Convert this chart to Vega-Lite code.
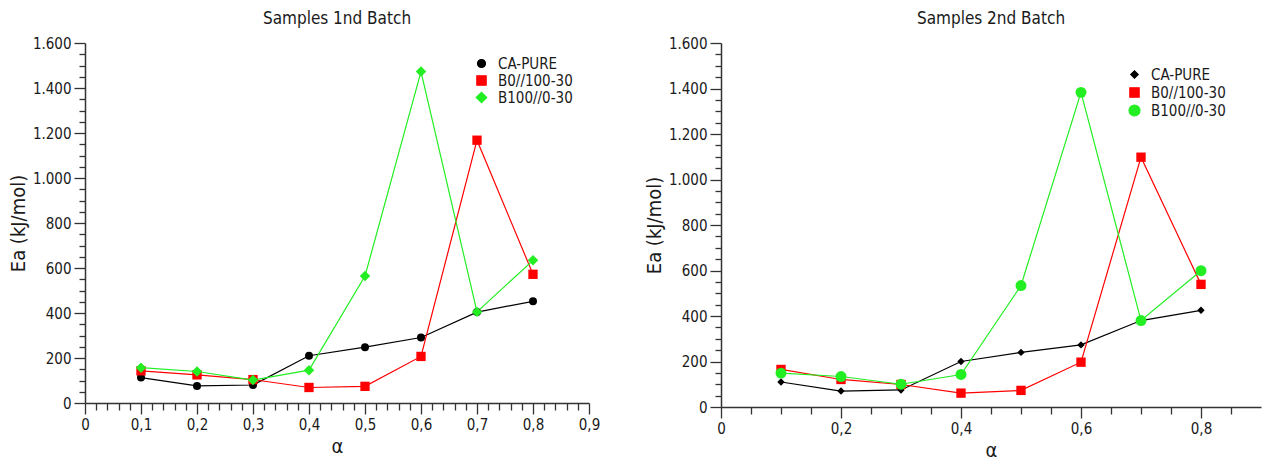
{
  "$schema": "https://vega.github.io/schema/vega-lite/v6.json",
  "padding": {"left": 8, "top": 10, "right": 2, "bottom": 2},
  "config": {
    "font": "DejaVu Sans Condensed",
    "view": {"stroke": null},
    "axis": {"grid": false, "domainColor": "#333333", "domainWidth": 1.5, "tickColor": "#333333", "tickWidth": 1.3, "labelColor": "#1a1a1a", "labelFontSize": 15, "labelFont": "DejaVu Sans Condensed", "titleFont": "DejaVu Sans Condensed", "titleFontSize": 20, "titleFontWeight": "normal", "titleColor": "#1a1a1a", "labelOverlap": false, "labelFlush": false, "labelPadding": 3, "titlePadding": 4},
    "title": {"font": "DejaVu Sans Condensed", "fontSize": 17, "fontWeight": "normal", "color": "#1a1a1a"},
    "legend": {"labelFont": "DejaVu Sans Condensed", "labelFontSize": 15, "labelColor": "#1a1a1a", "padding": 0, "clipHeight": 15, "title": null}
  },
  "spacing": 44,
  "datasets": {
    "b1": [
      {"alpha": 0.1, "Ea": 113, "sample": "CA-PURE"},
      {"alpha": 0.2, "Ea": 76, "sample": "CA-PURE"},
      {"alpha": 0.3, "Ea": 80, "sample": "CA-PURE"},
      {"alpha": 0.4, "Ea": 210, "sample": "CA-PURE"},
      {"alpha": 0.5, "Ea": 248, "sample": "CA-PURE"},
      {"alpha": 0.6, "Ea": 291, "sample": "CA-PURE"},
      {"alpha": 0.7, "Ea": 404, "sample": "CA-PURE"},
      {"alpha": 0.8, "Ea": 452, "sample": "CA-PURE"},
      {"alpha": 0.1, "Ea": 143, "sample": "B0//100-30"},
      {"alpha": 0.2, "Ea": 125, "sample": "B0//100-30"},
      {"alpha": 0.3, "Ea": 104, "sample": "B0//100-30"},
      {"alpha": 0.4, "Ea": 69, "sample": "B0//100-30"},
      {"alpha": 0.5, "Ea": 74, "sample": "B0//100-30"},
      {"alpha": 0.6, "Ea": 207, "sample": "B0//100-30"},
      {"alpha": 0.7, "Ea": 1168, "sample": "B0//100-30"},
      {"alpha": 0.8, "Ea": 572, "sample": "B0//100-30"},
      {"alpha": 0.1, "Ea": 157, "sample": "B100//0-30"},
      {"alpha": 0.2, "Ea": 140, "sample": "B100//0-30"},
      {"alpha": 0.3, "Ea": 102, "sample": "B100//0-30"},
      {"alpha": 0.4, "Ea": 146, "sample": "B100//0-30"},
      {"alpha": 0.5, "Ea": 564, "sample": "B100//0-30"},
      {"alpha": 0.6, "Ea": 1473, "sample": "B100//0-30"},
      {"alpha": 0.7, "Ea": 405, "sample": "B100//0-30"},
      {"alpha": 0.8, "Ea": 634, "sample": "B100//0-30"}
    ],
    "b2": [
      {"alpha": 0.1, "Ea": 110, "sample": "CA-PURE"},
      {"alpha": 0.2, "Ea": 70, "sample": "CA-PURE"},
      {"alpha": 0.3, "Ea": 75, "sample": "CA-PURE"},
      {"alpha": 0.4, "Ea": 200, "sample": "CA-PURE"},
      {"alpha": 0.5, "Ea": 240, "sample": "CA-PURE"},
      {"alpha": 0.6, "Ea": 273, "sample": "CA-PURE"},
      {"alpha": 0.7, "Ea": 380, "sample": "CA-PURE"},
      {"alpha": 0.8, "Ea": 425, "sample": "CA-PURE"},
      {"alpha": 0.1, "Ea": 165, "sample": "B0//100-30"},
      {"alpha": 0.2, "Ea": 121, "sample": "B0//100-30"},
      {"alpha": 0.3, "Ea": 99, "sample": "B0//100-30"},
      {"alpha": 0.4, "Ea": 61, "sample": "B0//100-30"},
      {"alpha": 0.5, "Ea": 73, "sample": "B0//100-30"},
      {"alpha": 0.6, "Ea": 197, "sample": "B0//100-30"},
      {"alpha": 0.7, "Ea": 1098, "sample": "B0//100-30"},
      {"alpha": 0.8, "Ea": 539, "sample": "B0//100-30"},
      {"alpha": 0.1, "Ea": 149, "sample": "B100//0-30"},
      {"alpha": 0.2, "Ea": 134, "sample": "B100//0-30"},
      {"alpha": 0.3, "Ea": 100, "sample": "B100//0-30"},
      {"alpha": 0.4, "Ea": 143, "sample": "B100//0-30"},
      {"alpha": 0.5, "Ea": 534, "sample": "B100//0-30"},
      {"alpha": 0.6, "Ea": 1383, "sample": "B100//0-30"},
      {"alpha": 0.7, "Ea": 380, "sample": "B100//0-30"},
      {"alpha": 0.8, "Ea": 599, "sample": "B100//0-30"}
    ]
  },
  "hconcat": [
    {
      "width": 504,
      "height": 360,
      "title": {"text": "Samples 1nd Batch", "offset": 8},
      "data": {"name": "b1"},
      "encoding": {
        "x": {"field": "alpha", "type": "quantitative",
          "scale": {"domain": [0, 0.9], "nice": false},
          "axis": {"title": "α",
            "values": [0,0.02,0.04,0.06,0.08,0.1,0.12,0.14,0.16,0.18,0.2,0.22,0.24,0.26,0.28,0.3,0.32,0.34,0.36,0.38,0.4,0.42,0.44,0.46,0.48,0.5,0.52,0.54,0.56,0.58,0.6,0.62,0.64,0.66,0.68,0.7,0.72,0.74,0.76,0.78,0.8,0.82,0.84,0.86,0.88,0.9],
            "labelExpr": "abs(datum.value*10 - round(datum.value*10)) < 0.001 ? replace(format(datum.value, '.1~f'), '.', ',') : ''",
            "tickSize": {"condition": {"test": "abs(datum.value*10 - round(datum.value*10)) < 0.001", "value": 11}, "value": 7}}},
        "y": {"field": "Ea", "type": "quantitative",
          "scale": {"domain": [0, 1600], "nice": false},
          "axis": {"title": "Ea (kJ/mol)",
            "values": [0,50,100,150,200,250,300,350,400,450,500,550,600,650,700,750,800,850,900,950,1000,1050,1100,1150,1200,1250,1300,1350,1400,1450,1500,1550,1600],
            "labelExpr": "datum.value % 200 === 0 ? replace(format(datum.value, ','), ',', '.') : ''",
            "tickSize": {"condition": {"test": "datum.value % 200 === 0", "value": 11}, "value": 6}}}
      },
      "layer": [
        {"mark": {"type": "line", "strokeWidth": 1.2},
          "encoding": {
            "color": {"field": "sample", "type": "nominal",
              "scale": {"domain": ["CA-PURE", "B0//100-30", "B100//0-30"], "range": ["#000000", "#ff0000", "#22ee22"]},
              "legend": {"orient": "none", "legendX": 389, "legendY": 13, "symbolType": "M-1,0H1", "symbolSize": 1024, "symbolStrokeWidth": 1.2, "rowPadding": 1, "labelOffset": 9}}
          }},
        {"mark": {"type": "point", "filled": true, "opacity": 1},
          "encoding": {
            "fill": {"field": "sample", "type": "nominal",
              "scale": {"domain": ["CA-PURE", "B0//100-30", "B100//0-30"], "range": ["#000000", "#ff0000", "#22ee22"]},
              "legend": null},
            "shape": {"field": "sample", "type": "nominal", "scale": {"domain": ["CA-PURE", "B0//100-30", "B100//0-30"], "range": ["circle", "square", "diamond"]},
              "legend": null},
            "size": {"field": "sample", "type": "nominal", "scale": {"domain": ["CA-PURE", "B0//100-30", "B100//0-30"], "range": [64, 110, 60]}, "legend": null}
          }}
      ]
    },
    {
      "width": 540,
      "height": 364,
      "title": {"text": "Samples 2nd Batch", "offset": 8},
      "data": {"name": "b2"},
      "encoding": {
        "x": {"field": "alpha", "type": "quantitative",
          "scale": {"domain": [0, 0.9], "nice": false},
          "axis": {"title": "α",
            "values": [0,0.05,0.1,0.15,0.2,0.25,0.3,0.35,0.4,0.45,0.5,0.55,0.6,0.65,0.7,0.75,0.8,0.85],
            "labelExpr": "abs(datum.value*5 - round(datum.value*5)) < 0.001 ? replace(format(datum.value, '.1~f'), '.', ',') : ''",
            "tickSize": {"condition": {"test": "abs(datum.value*5 - round(datum.value*5)) < 0.001", "value": 11}, "value": 7}}},
        "y": {"field": "Ea", "type": "quantitative",
          "scale": {"domain": [0, 1600], "nice": false},
          "axis": {"title": "Ea (kJ/mol)",
            "values": [0,50,100,150,200,250,300,350,400,450,500,550,600,650,700,750,800,850,900,950,1000,1050,1100,1150,1200,1250,1300,1350,1400,1450,1500,1550,1600],
            "labelExpr": "datum.value % 200 === 0 ? replace(format(datum.value, ','), ',', '.') : ''",
            "tickSize": {"condition": {"test": "datum.value % 200 === 0", "value": 11}, "value": 6}}}
      },
      "layer": [
        {"mark": {"type": "line", "strokeWidth": 1.2},
          "encoding": {
            "color": {"field": "sample", "type": "nominal",
              "scale": {"domain": ["CA-PURE", "B0//100-30", "B100//0-30"], "range": ["#000000", "#ff0000", "#22ee22"]},
              "legend": {"orient": "none", "legendX": 406, "legendY": 24, "symbolType": "M-1,0H1", "symbolSize": 1296, "symbolStrokeWidth": 1.2, "rowPadding": 2, "labelOffset": 9}}
          }},
        {"mark": {"type": "point", "filled": true, "opacity": 1},
          "encoding": {
            "fill": {"field": "sample", "type": "nominal",
              "scale": {"domain": ["CA-PURE", "B0//100-30", "B100//0-30"], "range": ["#000000", "#ff0000", "#22ee22"]},
              "legend": null},
            "shape": {"field": "sample", "type": "nominal", "scale": {"domain": ["CA-PURE", "B0//100-30", "B100//0-30"], "range": ["diamond", "square", "circle"]},
              "legend": null},
            "size": {"field": "sample", "type": "nominal", "scale": {"domain": ["CA-PURE", "B0//100-30", "B100//0-30"], "range": [55, 120, 80]}, "legend": null}
          }}
      ]
    }
  ],
  "resolve": {"scale": {"color": "independent", "fill": "independent", "shape": "independent", "size": "independent", "x": "independent", "y": "independent"}, "legend": {"color": "independent"}}
}
